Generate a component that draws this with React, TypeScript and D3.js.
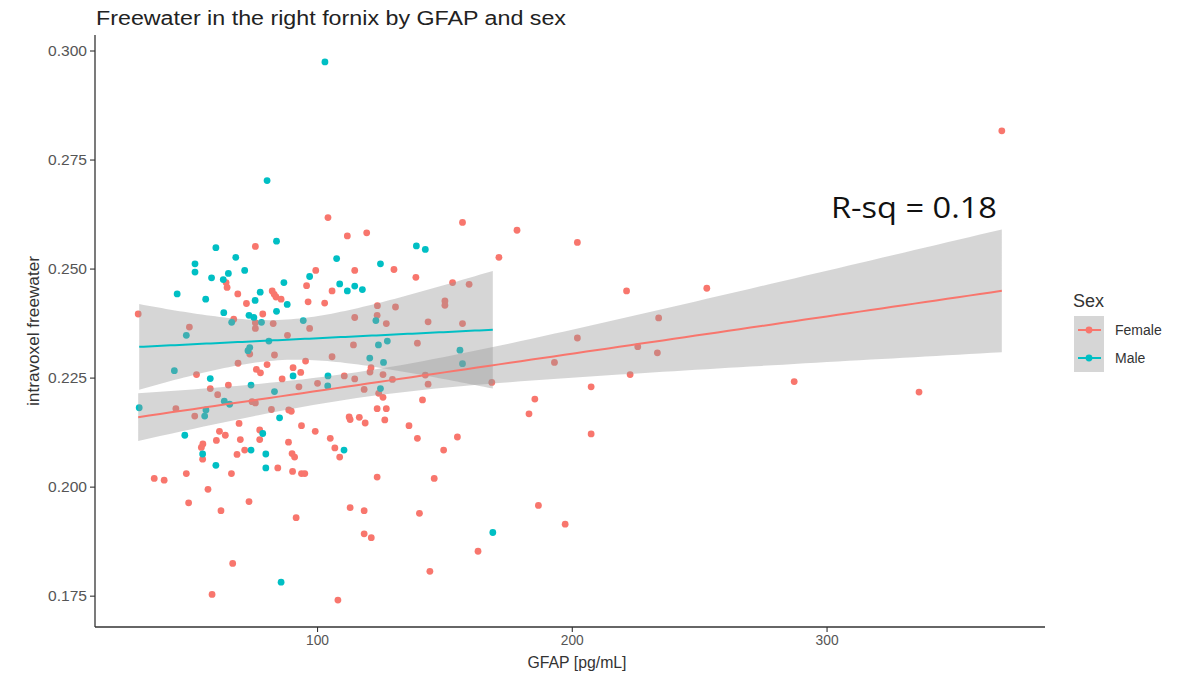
import React, { useEffect } from 'react';
import * as d3 from 'd3';

// ---- Data ----
const femaleGFAP = [
  75.6, 99.3, 64.1, 64.5, 68.7, 72.1, 82.2, 83.0, 83.7, 85.7, 95.7, 96.3, 78.5, 67.1, 75.6, 75.6,
  82.6, 96.9, 49.7, 29.6, 88.2, 73.4, 83.1, 95.3, 68.8, 80.2, 76.0, 77.6, 90.4, 93.4, 52.5, 86.1,
  65.0, 57.9, 92.7, 100.0, 60.8, 74.3, 75.6, 44.4, 51.8, 81.9, 88.7, 89.7, 69.2, 93.7, 99.1, 61.5,
  63.8, 77.3, 60.3, 69.7, 77.3, 88.6, 55.0, 54.4, 71.4, 68.4, 90.0, 91.0, 54.9, 84.4, 66.2, 48.5,
  90.2, 93.7, 95.0, 35.9, 39.8, 57.0, 49.4, 73.1, 62.1, 91.6, 66.7, 58.6,
  104.1, 156.9, 111.7, 119.3, 114.6, 130.0, 138.6, 105.7, 153.0, 159.5, 102.8, 150.0, 150.0, 123.5,
  130.6, 114.6, 123.4, 127.0, 143.4, 156.9, 114.1, 139.2, 105.7, 121.0, 120.6, 110.5, 114.6, 125.7,
  129.4, 118.3, 143.4, 142.3, 124.0, 125.7, 141.2, 123.4, 127.0, 112.4, 112.8, 116.4, 118.7, 126.4,
  135.9, 105.0, 139.2, 154.9,
  106.8, 108.7, 149.5, 123.4, 145.8, 112.8, 118.3, 140.0, 118.3, 121.1, 163.0, 144.1, 108.0,
  178.3, 171.2, 202.0, 221.3, 252.8, 233.9, 202.0, 225.7, 233.4, 193.0, 168.4, 222.7, 207.4, 287.1,
  336.1, 185.3, 183.0, 207.4, 186.7, 197.2, 368.6,
];
const femaleFW = [
  0.2552, 0.2497, 0.2469, 0.2458, 0.2443, 0.2421, 0.2450, 0.2442, 0.2436, 0.2431, 0.2462, 0.2425,
  0.2397, 0.2385, 0.2377, 0.2364, 0.2375, 0.2364, 0.2367, 0.2397, 0.2348, 0.2305, 0.2303, 0.2289,
  0.2284, 0.2281, 0.2270, 0.2262, 0.2274, 0.2263, 0.2258, 0.2248,
  0.2234, 0.2226, 0.2230, 0.2238, 0.2212, 0.2196, 0.2193, 0.2180, 0.2163, 0.2178, 0.2177, 0.2174,
  0.2146, 0.2141, 0.2128, 0.2128, 0.2119, 0.2131, 0.2107, 0.2109, 0.2109, 0.2103, 0.2099, 0.2091,
  0.2085, 0.2075, 0.2077, 0.2069, 0.2064, 0.2044, 0.2031, 0.2031, 0.2036, 0.2031, 0.2031, 0.2020,
  0.2016, 0.1995, 0.1964, 0.1967, 0.1946, 0.1930, 0.1825, 0.1754,
  0.2618, 0.2607, 0.2576, 0.2583, 0.2497, 0.2499, 0.2481, 0.2450, 0.2469, 0.2465, 0.2422, 0.2427,
  0.2417, 0.2416, 0.2413, 0.2389, 0.2394, 0.2375, 0.2379, 0.2375, 0.2326, 0.2330, 0.2299, 0.2274,
  0.2264, 0.2255, 0.2248, 0.2258, 0.2247, 0.2224, 0.2236, 0.2257, 0.2215, 0.2206, 0.2200, 0.2180,
  0.2180, 0.2161, 0.2155, 0.2160, 0.2147, 0.2154, 0.2141, 0.2112, 0.2112, 0.2115,
  0.2090, 0.2069, 0.2085, 0.2023, 0.2020, 0.1953, 0.1946, 0.1940, 0.1893, 0.1884, 0.1853, 0.1807,
  0.1741,
  0.2589, 0.2527, 0.2561, 0.2450, 0.2456, 0.2388, 0.2342, 0.2322, 0.2308, 0.2286, 0.2240, 0.2258,
  0.2230, 0.2242, 0.2218, 0.2202, 0.2168, 0.2122, 0.1958, 0.1915, 0.2817,
];
const maleGFAP = [
  80.2, 83.9, 60.1, 67.9, 51.9, 51.9, 58.4, 65.0, 71.4, 63.0, 44.9, 56.1, 75.5, 77.5, 86.8, 88.1,
  96.9, 63.2, 73.1, 75.0, 83.9, 78.0, 66.3, 94.4, 48.5, 80.9, 73.4, 72.7, 43.8, 57.9, 90.4,
  73.9, 83.1, 63.4, 65.5, 30.0, 56.2, 55.7, 85.1, 47.9, 78.5, 54.9, 73.9, 79.7, 60.1, 79.7, 85.7,
  138.8, 142.3, 107.5, 124.7, 108.7, 111.7, 114.6, 117.6, 122.9, 127.4, 123.9, 120.5, 125.9, 155.9,
  156.9, 104.1, 104.0, 124.7, 110.4, 168.8, 102.9,
];
const maleFW = [
  0.2703, 0.2564, 0.2549, 0.2527, 0.2512, 0.2493, 0.2480, 0.2490, 0.2497, 0.2476, 0.2443, 0.2431,
  0.2428, 0.2447, 0.2469, 0.2419, 0.2483, 0.2400, 0.2394, 0.2389, 0.2403, 0.2378, 0.2378, 0.2382,
  0.2348, 0.2335, 0.2320, 0.2313, 0.2267, 0.2249, 0.2255,
  0.2234, 0.2219, 0.2197, 0.2190, 0.2182, 0.2177, 0.2163, 0.2159, 0.2119, 0.2123, 0.2076, 0.2085,
  0.2076, 0.2050, 0.2044, 0.1782,
  0.2553, 0.2545, 0.2524, 0.2512, 0.2466, 0.2450, 0.2461, 0.2453, 0.2382, 0.2335, 0.2326, 0.2296,
  0.2286, 0.2314, 0.2283, 0.2255, 0.2232, 0.2226, 0.2085, 0.1896, 0.2975,
];

const xTicks = [100, 200, 300];
const yTicks = [0.175, 0.2, 0.225, 0.25, 0.275, 0.3];
const seriesNames = ['Female', 'Male'];
const seriesColors = ['#F8766D', '#00BFC4'];
const titleText = 'Freewater in the right fornix by GFAP and sex';
const xTitle = 'GFAP [pg/mL]';
const yTitle = 'intravoxel freewater';
const legendTitle = 'Sex';
const rsqLabel = 'R-sq = 0.18';

// ---- helpers ----
function t975(df: number) {
  const z = 1.959964;
  return z + (z ** 3 + z) / (4 * df) + (5 * z ** 5 + 16 * z ** 3 + 3 * z) / (96 * df * df);
}

function lmBand(xs: number[], ys: number[], nPts = 80) {
  const n = xs.length;
  const mx = d3.mean(xs) as number;
  const my = d3.mean(ys) as number;
  let sxx = 0, sxy = 0;
  for (let i = 0; i < n; i++) {
    sxx += (xs[i] - mx) ** 2;
    sxy += (xs[i] - mx) * (ys[i] - my);
  }
  const b = sxy / sxx;
  const a = my - b * mx;
  let sse = 0;
  for (let i = 0; i < n; i++) sse += (ys[i] - a - b * xs[i]) ** 2;
  const s2 = sse / (n - 2);
  const t = t975(n - 2);
  const [x0, x1] = d3.extent(xs) as [number, number];
  return d3.range(nPts).map((i) => {
    const x = x0 + ((x1 - x0) * i) / (nPts - 1);
    const fit = a + b * x;
    const se = Math.sqrt(s2 * (1 / n + (x - mx) ** 2 / sxx));
    return { x, fit, lo: fit - t * se, hi: fit + t * se };
  });
}

const W = 1184, H = 675;
const plot = { left: 95, right: 1045, top: 35, bottom: 627 };
const FONT = '"Liberation Sans", Arial, sans-serif';

export default function App() {
  useEffect(() => {
    document.body.style.margin = '0';
  }, []);

  const allX = [...femaleGFAP, ...maleGFAP];
  const allY = [...femaleFW, ...maleFW];
  const [xa, xb] = d3.extent(allX) as [number, number];
  const [ya, yb] = d3.extent(allY) as [number, number];
  const xPad = (xb - xa) * 0.05, yPad = (yb - ya) * 0.05;
  const x = d3.scaleLinear().domain([xa - xPad, xb + xPad]).range([plot.left, plot.right]);
  const y = d3.scaleLinear().domain([ya - yPad, yb + yPad]).range([plot.bottom, plot.top]);

  const groups = [
    { name: seriesNames[0], color: seriesColors[0], xs: femaleGFAP, ys: femaleFW },
    { name: seriesNames[1], color: seriesColors[1], xs: maleGFAP, ys: maleFW },
  ];
  const bands = groups.map((g) => lmBand(g.xs, g.ys));
  const area = d3.area<any>().x((d) => x(d.x)).y0((d) => y(d.lo)).y1((d) => y(d.hi));
  const line = d3.line<any>().x((d) => x(d.x)).y((d) => y(d.fit));

  const legendX = 1074, legendY0 = 316, keyW = 30, keyH = 28;

  return (
    <svg width={W} height={H} style={{ position: 'absolute', left: 0, top: 0, background: '#fff' }}>
      <rect x={0} y={0} width={W} height={H} fill="#fff" />
      {/* title */}
      <text x={96} y={25} fontFamily={FONT} fontSize={20} fill="#222" textLength={470} lengthAdjust="spacingAndGlyphs">
        {titleText}
      </text>

      {/* points */}
      {groups.map((g) =>
        g.xs.map((v, i) => (
          <circle key={g.name + i} cx={x(v)} cy={y(g.ys[i])} r={3.4} fill={g.color} />
        ))
      )}

      {/* ribbons */}
      {bands.map((b, i) => (
        <path key={'band' + i} d={area(b) as string} fill="#999999" fillOpacity={0.4} />
      ))}
      {/* fit lines */}
      {bands.map((b, i) => (
        <path key={'line' + i} d={line(b) as string} fill="none" stroke={groups[i].color} strokeWidth={2} />
      ))}

      {/* axes */}
      <line x1={plot.left} x2={plot.left} y1={plot.top} y2={plot.bottom} stroke="#333" strokeWidth={1.3} />
      <line x1={plot.left} x2={plot.right} y1={plot.bottom} y2={plot.bottom} stroke="#333" strokeWidth={1.3} />
      {yTicks.map((t) => (
        <g key={'yt' + t}>
          <line x1={plot.left - 5} x2={plot.left} y1={y(t)} y2={y(t)} stroke="#333" strokeWidth={1.1} />
          <text x={plot.left - 8} y={y(t)} dy="0.36em" textAnchor="end" fontFamily={FONT} fontSize={14} fill="#555"
            textLength={39} lengthAdjust="spacingAndGlyphs">
            {d3.format('.3f')(t)}
          </text>
        </g>
      ))}
      {xTicks.map((t) => (
        <g key={'xt' + t}>
          <line x1={x(t)} x2={x(t)} y1={plot.bottom} y2={plot.bottom + 5} stroke="#333" strokeWidth={1.1} />
          <text x={x(t)} y={plot.bottom + 18} textAnchor="middle" fontFamily={FONT} fontSize={15} fill="#555"
            textLength={23} lengthAdjust="spacingAndGlyphs">
            {String(t)}
          </text>
        </g>
      ))}
      <text x={577} y={668} textAnchor="middle" fontFamily={FONT} fontSize={17} fill="#333" textLength={99} lengthAdjust="spacingAndGlyphs">
        {xTitle}
      </text>
      <text transform={`translate(39,${(plot.top + plot.bottom) / 2}) rotate(-90)`} textAnchor="middle" fontFamily={FONT}
        fontSize={16} fill="#333" textLength={150} lengthAdjust="spacingAndGlyphs">
        {yTitle}
      </text>

      {/* R-sq annotation */}
      <text x={831} y={218} fontFamily={'"Open Sans", "Noto Sans", sans-serif'} fontSize={30} fill="#111" textLength={166} lengthAdjust="spacingAndGlyphs">
        {rsqLabel}
      </text>

      {/* legend */}
      <text x={1073} y={307} fontFamily={FONT} fontSize={18} fill="#333">{legendTitle}</text>
      {groups.map((g, i) => {
        const cy = legendY0 + keyH * i + keyH / 2;
        return (
          <g key={'lg' + i}>
            <rect x={legendX} y={legendY0 + keyH * i} width={keyW} height={keyH} fill="#999999" fillOpacity={0.4} />
            <line x1={legendX + 4} x2={legendX + keyW - 3} y1={cy} y2={cy} stroke={g.color} strokeWidth={2} />
            <circle cx={legendX + keyW / 2} cy={cy} r={3.4} fill={g.color} />
            <text x={1115} y={cy} dy="0.36em" fontFamily={FONT} fontSize={14} fill="#333">{g.name}</text>
          </g>
        );
      })}
    </svg>
  );
}
